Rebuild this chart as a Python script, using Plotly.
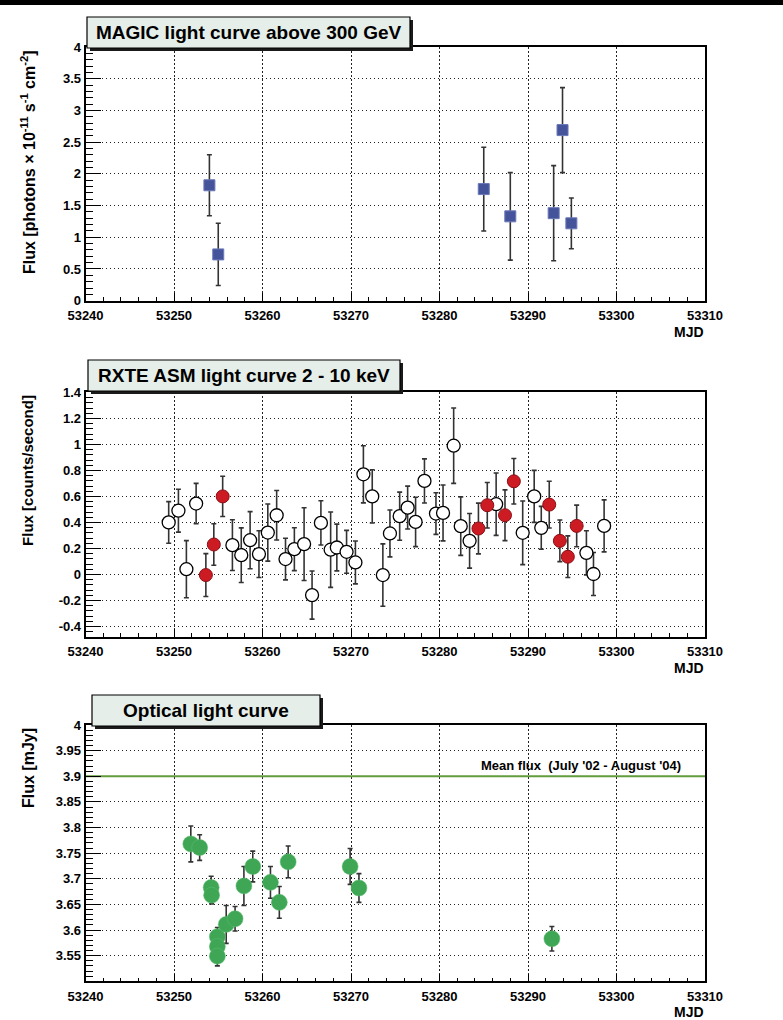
import plotly.graph_objects as go

W, H = 783, 1020


def px(x):
    return x / W


def py(y):
    return 1 - y / H


# ---------------- data ----------------
# MAGIC light curve above 300 GeV
magic_mjd = [53254.0, 53255.0, 53285.0, 53288.0, 53292.9, 53293.9, 53294.9]
magic_flux = [1.82, 0.73, 1.76, 1.33, 1.38, 2.69, 1.22]
magic_err = [0.48, 0.49, 0.66, 0.69, 0.75, 0.67, 0.40]

# RXTE ASM 2-10 keV, open circles
asm_mjd = [53249.4, 53250.5, 53251.4, 53252.5, 53256.6, 53257.6, 53258.6, 53259.6,
           53260.6, 53261.6, 53262.6, 53263.6, 53264.7, 53265.6, 53266.6, 53267.7,
           53268.4, 53269.5, 53270.5, 53271.4, 53272.4, 53273.6, 53274.4, 53275.5,
           53276.4, 53277.3, 53278.3, 53279.6, 53280.4, 53281.6, 53282.4, 53283.4,
           53286.4, 53289.4, 53290.7, 53291.5, 53296.6, 53297.4, 53298.6]
asm_flux = [0.40, 0.49, 0.04, 0.545, 0.225, 0.148, 0.263, 0.156,
            0.322, 0.455, 0.118, 0.194, 0.233, -0.159, 0.396, 0.19,
            0.207, 0.174, 0.092, 0.77, 0.60, -0.005, 0.315, 0.448,
            0.514, 0.404, 0.719, 0.468, 0.473, 0.99, 0.371, 0.258,
            0.54, 0.32, 0.60, 0.358, 0.166, 0.003, 0.373]
asm_err = [0.16, 0.165, 0.22, 0.155, 0.195, 0.21, 0.22, 0.18,
           0.22, 0.19, 0.16, 0.165, 0.28, 0.185, 0.17, 0.29,
           0.18, 0.165, 0.165, 0.22, 0.205, 0.24, 0.18, 0.185,
           0.165, 0.19, 0.17, 0.16, 0.215, 0.29, 0.225, 0.21,
           0.24, 0.245, 0.2, 0.165, 0.17, 0.165, 0.2]

# RXTE ASM, simultaneous with MAGIC (red)
asm_sim_mjd = [53253.6, 53254.5, 53255.5, 53284.4, 53285.4, 53287.4, 53288.4,
               53292.4, 53293.6, 53294.5, 53295.5]
asm_sim_flux = [-0.005, 0.23, 0.60, 0.353, 0.532, 0.455, 0.716,
                0.537, 0.258, 0.136, 0.373]
asm_sim_err = [0.165, 0.16, 0.155, 0.195, 0.175, 0.195, 0.175,
               0.18, 0.16, 0.16, 0.16]

# Optical light curve
opt_mjd = [53251.9, 53252.9, 53254.2, 53254.25, 53254.9, 53254.9, 53254.9,
           53255.9, 53256.9, 53257.9, 53258.9, 53260.9, 53261.9, 53262.9,
           53269.9, 53270.9, 53292.7]
opt_flux = [3.768, 3.761, 3.683, 3.668, 3.587, 3.568, 3.549,
            3.611, 3.622, 3.686, 3.724, 3.693, 3.654, 3.733,
            3.724, 3.682, 3.583]
opt_err = [0.035, 0.025, 0.022, 0.017, 0.018, 0.018, 0.019,
           0.037, 0.024, 0.038, 0.030, 0.031, 0.031, 0.031,
           0.035, 0.028, 0.024]
mean_flux = 3.9
mean_label = "Mean flux  (July '02 - August '04)"

x_range = [53240, 53310]
x_ticks = [53240, 53250, 53260, 53270, 53280, 53290, 53300, 53310]
x_text = ["53240", "53250", "53260", "53270", "53280", "53290", "53300", "53310"]

y1_ticks = [0, 0.5, 1, 1.5, 2, 2.5, 3, 3.5, 4]
y1_text = ["0", "0.5", "1", "1.5", "2", "2.5", "3", "3.5", "4"]
y2_ticks = [-0.4, -0.2, 0, 0.2, 0.4, 0.6, 0.8, 1.0, 1.2, 1.4]
y2_text = ["-0.4", "-0.2", "0", "0.2", "0.4", "0.6", "0.8", "1", "1.2", "1.4"]
y3_ticks = [3.55, 3.6, 3.65, 3.7, 3.75, 3.8, 3.85, 3.9, 3.95, 4.0]
y3_text = ["3.55", "3.6", "3.65", "3.7", "3.75", "3.8", "3.85", "3.9", "3.95", "4"]

titles = ["MAGIC light curve above 300 GeV", "RXTE ASM light curve 2 - 10 keV",
          "Optical light curve"]
ytitles = ["Flux [photons \u00d7 10<sup>-11</sup> s<sup>-1</sup> cm<sup>-2</sup>]",
           "Flux [counts/second]", "Flux [mJy]"]

# ---------------- style ----------------
FONT = "Liberation Sans, Arial, Helvetica, sans-serif"
tickfont = dict(family=FONT, size=13, color="black", weight="bold")
errcol = "#333333"
GRIDDASH = "1.5px,2.5px"

fig = go.Figure()

fig.add_trace(go.Scatter(
    x=magic_mjd, y=magic_flux, mode="markers", xaxis="x", yaxis="y",
    marker=dict(symbol="square", size=11, color="#45549a",
                line=dict(color="#6a78b8", width=1)),
    error_y=dict(type="data", array=magic_err, color=errcol, thickness=1.6, width=2.5),
    showlegend=False))

fig.add_trace(go.Scatter(
    x=asm_mjd, y=asm_flux, mode="markers", xaxis="x2", yaxis="y2",
    marker=dict(symbol="circle", size=13, color="white",
                line=dict(color="black", width=1.3)),
    error_y=dict(type="data", array=asm_err, color=errcol, thickness=1.6, width=2.5),
    showlegend=False))

fig.add_trace(go.Scatter(
    x=asm_sim_mjd, y=asm_sim_flux, mode="markers", xaxis="x2", yaxis="y2",
    marker=dict(symbol="circle", size=13, color="#cc1b22",
                line=dict(color="#8a1015", width=1)),
    error_y=dict(type="data", array=asm_sim_err, color=errcol, thickness=1.6, width=2.5),
    showlegend=False))

fig.add_trace(go.Scatter(
    x=x_range, y=[mean_flux, mean_flux], mode="lines", xaxis="x3", yaxis="y3",
    line=dict(color="#639c3c", width=2.2), showlegend=False))

fig.add_trace(go.Scatter(
    x=opt_mjd, y=opt_flux, mode="markers", xaxis="x3", yaxis="y3",
    marker=dict(symbol="circle", size=16, color="#3fa656",
                line=dict(color="#5cbf70", width=0.5)),
    error_y=dict(type="data", array=opt_err, color=errcol, thickness=1.6, width=2.5),
    showlegend=False))


def xaxis(anchor):
    return dict(domain=[px(85.5), px(705)], range=x_range, anchor=anchor,
                tickmode="array", tickvals=x_ticks, ticktext=x_text,
                ticks="inside", ticklen=8, tickwidth=1.3, automargin=False,
                ticklabelstandoff=2,
                tickcolor="black", showline=True, linecolor="black", linewidth=1.6,
                mirror=True, showgrid=True, gridcolor="#222222", griddash=GRIDDASH,
                gridwidth=1.2, zeroline=False, tickfont=tickfont,
                minor=dict(tick0=53240, dtick=2, ticks="inside", ticklen=4,
                           tickcolor="black", tickwidth=1, showgrid=False))


def yaxis(anchor, rng, tv, tt, mdt, ytop, ybot):
    return dict(domain=[py(ybot), py(ytop)], range=rng, anchor=anchor,
                tickmode="array", tickvals=tv, ticktext=tt, automargin=False,
                ticks="inside", ticklen=16, tickwidth=1.3, tickcolor="black",
                showline=True, linecolor="black", linewidth=1.6, mirror=True,
                showgrid=True, gridcolor="#222222", griddash=GRIDDASH, gridwidth=1.2,
                zeroline=False, tickfont=tickfont,
                minor=dict(tick0=tv[0], dtick=mdt, ticks="inside", ticklen=8,
                           tickcolor="black", tickwidth=1, showgrid=False))


panels = [(47, 300.7), (392.4, 636.8), (725, 981.3)]

fig.update_layout(
    template="none",
    width=W, height=H, margin=dict(l=0, r=0, t=0, b=0, pad=0),
    paper_bgcolor="white", plot_bgcolor="white",
    xaxis=xaxis("y"),
    yaxis=yaxis("x", [0, 4], y1_ticks, y1_text, 0.1, *panels[0]),
    xaxis2=xaxis("y2"),
    yaxis2=yaxis("x2", [-0.48, 1.4], y2_ticks, y2_text, 0.04, *panels[1]),
    xaxis3=xaxis("y3"),
    yaxis3=yaxis("x3", [3.5, 4.0], y3_ticks, y3_text, 0.01, *panels[2]),
)

shapes = []
annotations = []

# black band at top of page
shapes.append(dict(type="rect", xref="paper", yref="paper", x0=0, x1=1,
                   y0=py(5), y1=1, fillcolor="black", line=dict(width=0), layer="above"))

# title boxes with shadow
boxes = [(87, 410, 17, 48), (88, 400, 360, 391), (92, 320, 695, 726)]
for (x0, x1, y0, y1), t in zip(boxes, titles):
    shapes.append(dict(type="rect", xref="paper", yref="paper",
                       x0=px(x0 + 3), x1=px(x1 + 3), y0=py(y1 + 3), y1=py(y0 + 3),
                       fillcolor="#1a1a1a", line=dict(width=0), layer="above"))
    shapes.append(dict(type="rect", xref="paper", yref="paper",
                       x0=px(x0), x1=px(x1), y0=py(y1), y1=py(y0),
                       fillcolor="#e6eee9", line=dict(color="black", width=1.2),
                       layer="above"))
    annotations.append(dict(xref="paper", yref="paper", x=px((x0 + x1) / 2),
                            y=py((y0 + y1) / 2), text=t, showarrow=False,
                            xanchor="center", yanchor="middle",
                            font=dict(family=FONT, size=19, color="black",
                                      weight="bold")))

# y-axis titles (rotated, aligned to top of axis) and MJD labels
ysizes = [16, 15, 16]
for (ytop, ybot), t, s in zip(panels, ytitles, ysizes):
    annotations.append(dict(xref="paper", yref="paper", x=px(28), y=py(ytop + 1),
                            text=t, showarrow=False, textangle=-90,
                            xanchor="center", yanchor="top",
                            font=dict(family=FONT, size=s, color="black",
                                      weight="bold")))
    annotations.append(dict(xref="paper", yref="paper", x=px(706), y=py(ybot + 21),
                            text="MJD", showarrow=False, xanchor="right",
                            yanchor="top",
                            font=dict(family=FONT, size=14, color="black",
                                      weight="bold")))

# mean flux label
annotations.append(dict(xref="x3", yref="y3", x=53307.5, y=mean_flux,
                        text=mean_label, showarrow=False, xanchor="right",
                        yanchor="bottom", yshift=1,
                        font=dict(family=FONT, size=13, color="black",
                                  weight="bold")))

fig.update_layout(shapes=shapes, annotations=annotations)
fig.write_html("out.html")
